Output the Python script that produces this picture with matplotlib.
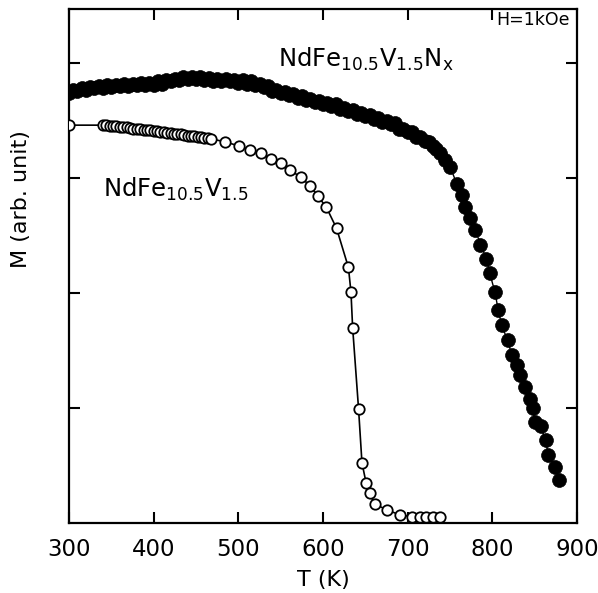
#!/usr/bin/env python

import numpy as np
import matplotlib
matplotlib.use('Agg')
import matplotlib.pyplot as plt

# NdFe10.5V1.5Nx (filled circles): temperature (K) and magnetization (arb. unit)
t_nitride = [300, 305, 310, 315, 320, 325, 330, 335, 340, 345, 350, 355, 360, 365, 370,
             375, 380, 385, 390, 395, 400, 405, 410, 415, 420, 425, 430, 435, 440, 445,
             450, 455, 460, 465, 470, 475, 480, 485, 490, 495, 500, 505, 510, 515, 520,
             525, 530, 535, 540, 545, 550, 555, 560, 565, 570, 575, 580, 585, 590, 595,
             600, 605, 610, 615, 620, 625, 630, 635, 640, 645, 650, 655, 660, 665, 670,
             675, 680, 685, 690, 695, 700, 705, 710, 715, 720, 725, 730, 734, 738, 744,
             750, 758, 764, 768, 774, 780, 786, 793, 797, 803, 807, 811, 818, 823, 829,
             833, 839, 844, 848, 850, 857, 863, 866, 874, 879]
m_nitride = [3.74, 3.77, 3.76, 3.78, 3.77, 3.79, 3.78, 3.80, 3.78, 3.81, 3.79, 3.81, 3.80, 3.82, 3.80,
             3.82, 3.81, 3.83, 3.81, 3.83, 3.81, 3.84, 3.82, 3.85, 3.84, 3.86, 3.85, 3.88, 3.86, 3.88,
             3.86, 3.88, 3.85, 3.87, 3.84, 3.86, 3.84, 3.86, 3.84, 3.85, 3.83, 3.85, 3.82, 3.84, 3.81,
             3.82, 3.79, 3.80, 3.76, 3.77, 3.74, 3.75, 3.72, 3.73, 3.70, 3.71, 3.68, 3.69, 3.66, 3.67,
             3.64, 3.655, 3.63, 3.64, 3.60, 3.61, 3.58, 3.59, 3.56, 3.57, 3.54, 3.55, 3.51, 3.52, 3.49,
             3.50, 3.47, 3.48, 3.43, 3.43, 3.40, 3.40, 3.36, 3.36, 3.32, 3.31, 3.28, 3.25, 3.215, 3.16,
             3.10, 2.95, 2.85, 2.75, 2.65, 2.55, 2.42, 2.30, 2.17, 2.01, 1.85, 1.72, 1.59, 1.46, 1.37,
             1.29, 1.185, 1.08, 1.00, 0.88, 0.84, 0.72, 0.59, 0.49, 0.37]

# NdFe10.5V1.5 (open circles)
t_parent = [300, 340, 344, 348, 352, 356, 360, 364, 368, 372, 376, 380, 384, 388, 392,
            396, 400, 404, 408, 412, 416, 420, 424, 428, 432, 436, 440, 444, 448, 452,
            456, 460, 464, 468, 484, 501, 514, 527, 539, 550, 561, 574, 585, 594, 604,
            616, 630, 633, 635, 642, 646, 651, 655, 661, 676, 691, 705, 715, 722, 730, 738]
m_parent = [3.46, 3.46, 3.46, 3.455, 3.45, 3.45, 3.445, 3.445, 3.44, 3.435, 3.43, 3.43, 3.425, 3.42, 3.42,
            3.415, 3.41, 3.405, 3.40, 3.40, 3.395, 3.39, 3.385, 3.38, 3.38, 3.375, 3.37, 3.37, 3.365, 3.36,
            3.355, 3.35, 3.345, 3.34, 3.316, 3.278, 3.243, 3.215, 3.163, 3.128, 3.07, 3.006, 2.93, 2.843, 2.745,
            2.563, 2.223, 2.011, 1.698, 0.991, 0.524, 0.345, 0.258, 0.165, 0.113, 0.07, 0.055, 0.055, 0.055, 0.055, 0.055]

x_ticks = [300, 400, 500, 600, 700, 800, 900]
y_ticks = [1, 2, 3, 4]

plt.rcParams['font.family'] = 'DejaVu Sans'
plt.rcParams['mathtext.fontset'] = 'dejavusans'

fig = plt.figure(figsize=(5.98, 5.93), dpi=100)
ax = fig.add_axes([0.1154, 0.118, 0.8495, 0.8668])

ax.plot(t_nitride, m_nitride, '-o', color='black', lw=1.0, ms=10,
        mfc='black', mec='black', mew=0.5)
ax.plot(t_parent, m_parent, '-o', color='black', lw=1.2, ms=7.5,
        mfc='white', mec='black', mew=1.3, zorder=3)

ax.set_xlim(300, 900)
ax.set_ylim(0, 4.47)
ax.set_xticks(x_ticks)
ax.set_yticks(y_ticks)
ax.set_yticklabels([])
ax.tick_params(direction='in', length=8, width=1.5, top=True, right=True,
               labelsize=16.5, pad=11)
for s in ax.spines.values():
    s.set_linewidth(1.6)

ax.set_xlabel('T (K)', fontsize=16, labelpad=6)
ax.set_ylabel('M (arb. unit)', fontsize=16)
ax.yaxis.set_label_coords(-0.075, 0.63)

ax.text(547, 3.97, r'NdFe$_{10.5}$V$_{1.5}$N$_{\mathrm{x}}$', fontsize=17.5, va='baseline')
ax.text(340, 2.84, r'NdFe$_{10.5}$V$_{1.5}$', fontsize=17.5, va='baseline')
ax.text(805, 4.33, 'H=1kOe', fontsize=12.5, va='baseline')

fig.savefig('out.png', dpi=100)
